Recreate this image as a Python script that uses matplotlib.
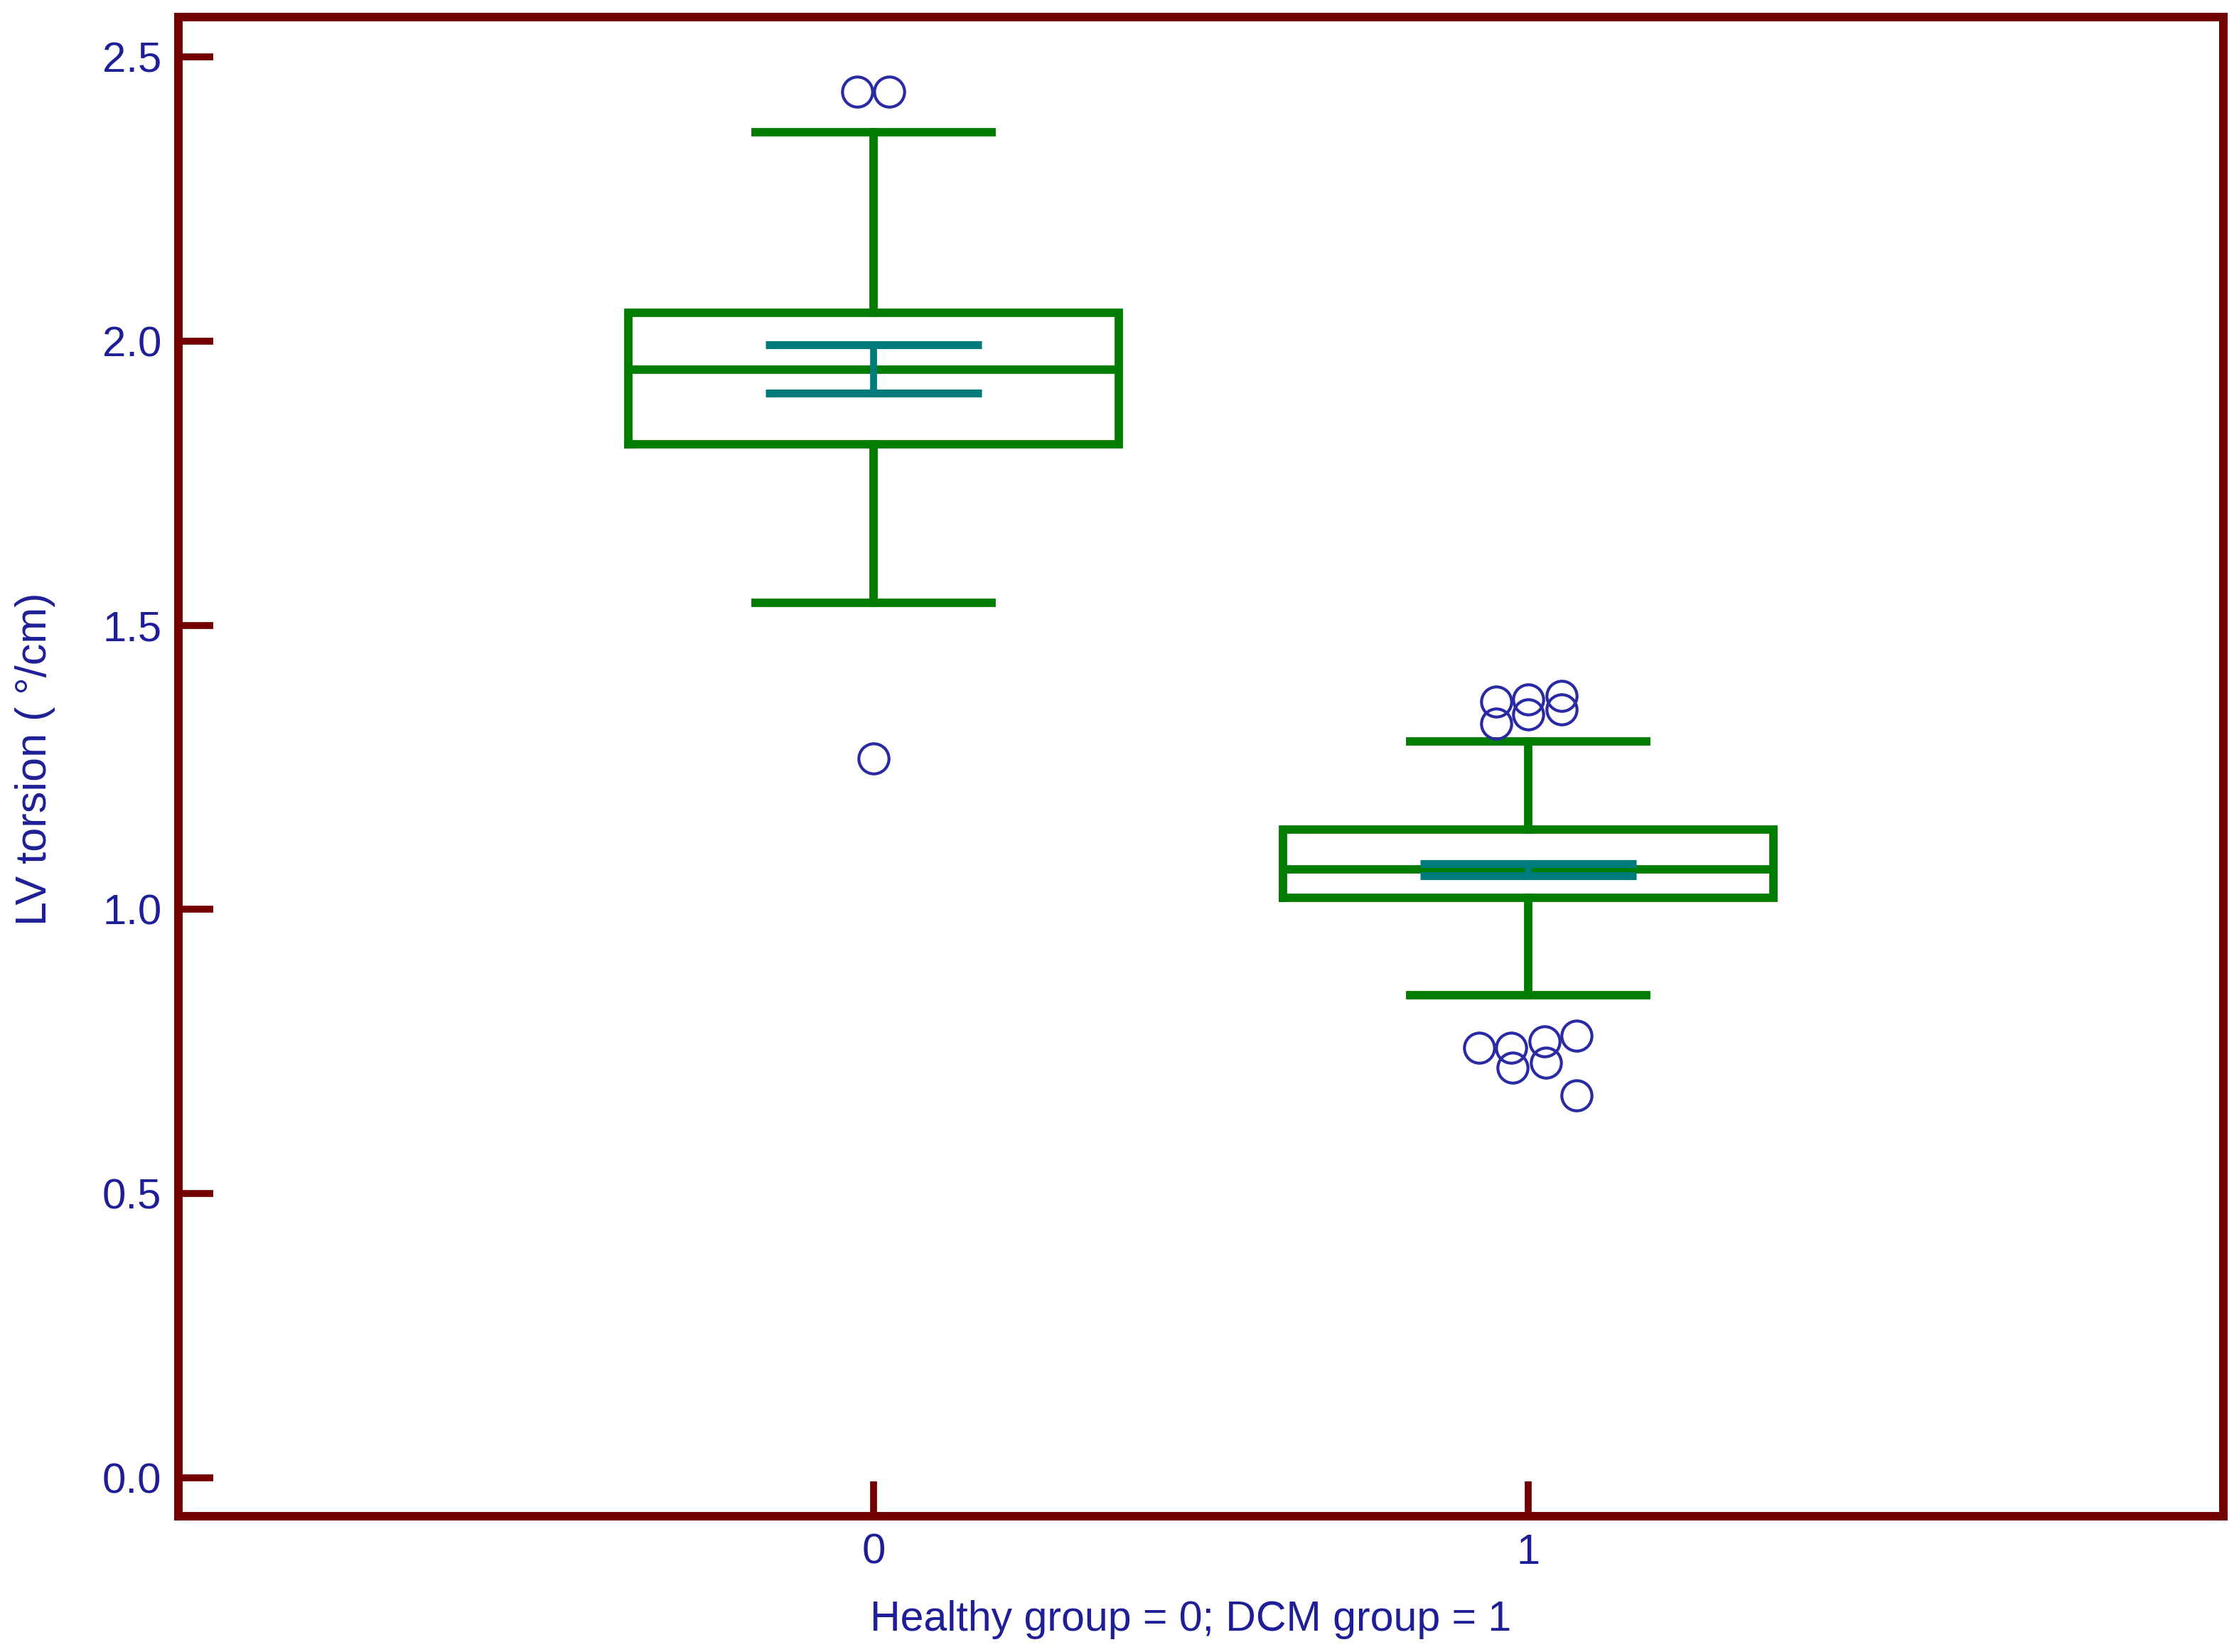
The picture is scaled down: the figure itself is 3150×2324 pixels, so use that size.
import numpy as np
import matplotlib
matplotlib.use("Agg")
import matplotlib.pyplot as plt

# box statistics per group (Healthy = 0, DCM = 1)
groups = [0, 1]
q1 = [1.818, 1.020]
med = [1.950, 1.070]
q3 = [2.050, 1.141]
whislo = [1.540, 0.849]
whishi = [2.367, 1.296]
ci_lo = [1.908, 1.059]
ci_hi = [1.994, 1.081]

# outside values, with the small sideways spread used to show overlapping points
out_group = [0, 0, 0,
             1, 1, 1, 1, 1, 1,
             1, 1, 1, 1, 1, 1, 1]
out_value = [2.439, 2.439, 1.266,
             1.366, 1.327, 1.369, 1.343, 1.376, 1.352,
             0.757, 0.757, 0.768, 0.778, 0.721, 0.730, 0.673]
out_jitter = [-0.025, 0.024, 0.0,
              -0.049, -0.049, 0.0, 0.0, 0.051, 0.051,
              -0.075, -0.026, 0.025, 0.074, -0.024, 0.027, 0.074]

y_ticks = [0.0, 0.5, 1.0, 1.5, 2.0, 2.5]
x_ticklabels = ["0", "1"]

FRAME = "#730000"
GREEN = "#007d00"
TEAL = "#007b7b"
NAVY = "#2a2aa3"
TEXT = "#1e1e96"

plt.rcParams["font.family"] = ["Liberation Sans", "DejaVu Sans"]

fig = plt.figure(figsize=(31.5, 23.24), dpi=100)
ax = fig.add_axes([0.0797, 0.0822, 0.9133, 0.9075])

stats = [{"med": m, "q1": a, "q3": b, "whislo": lo, "whishi": hi, "fliers": []}
         for m, a, b, lo, hi in zip(med, q1, q3, whislo, whishi)]
line = dict(color=GREEN, linewidth=8.5, solid_joinstyle="miter")
ax.bxp(stats, positions=groups, widths=0.75, capwidths=0.36, showfliers=False,
       boxprops=line, whiskerprops=line, capprops=line, medianprops=line)

# confidence interval of the median
g = np.array(groups, dtype=float)
ax.hlines(ci_hi, g - 0.165, g + 0.165, color=TEAL, linewidth=8.0, zorder=4)
ax.hlines(ci_lo, g - 0.165, g + 0.165, color=TEAL, linewidth=8.0, zorder=4)
ax.vlines(g, ci_lo, ci_hi, color=TEAL, linewidth=7.0, zorder=4)

ox = np.array(out_group, dtype=float) + np.array(out_jitter)
ax.plot(ox, out_value, linestyle="none", marker="o", markersize=30.5,
        markerfacecolor="none", markeredgecolor=NAVY, markeredgewidth=3.0,
        zorder=5)

ax.set_xlim(-1.0625, 2.0625)
ax.set_ylim(-0.0675, 2.570)
ax.set_xticks(groups)
ax.set_xticklabels(x_ticklabels)
ax.set_yticks(y_ticks)
ax.set_yticklabels([f"{v:.1f}" for v in y_ticks])

for s in ax.spines.values():
    s.set_color(FRAME)
    s.set_linewidth(8.6)

ax.tick_params(axis="both", direction="in", length=35, width=7, color=FRAME,
               labelcolor=TEXT, labelsize=43, pad=17)

ax.set_xlabel("Healthy group = 0; DCM group = 1", fontsize=42.5, color=TEXT)
ax.set_ylabel("LV torsion ( \u00b0/cm)", fontsize=44, color=TEXT)
ax.xaxis.set_label_coords(0.495, -0.056)
ax.xaxis.label.set_va("top")
ax.yaxis.set_label_coords(-0.060, 0.505)

fig.savefig("out.png", dpi=100, facecolor="white")
